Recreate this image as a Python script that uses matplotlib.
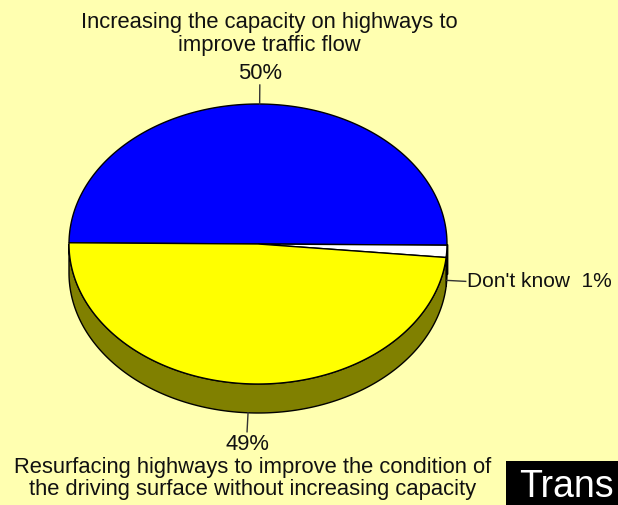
"""Opinion pie chart (3-D style) recreated with matplotlib."""
import numpy as np
import matplotlib.pyplot as plt
from matplotlib.patches import Polygon, Rectangle

CATEGORIES = [
    "Increasing the capacity on highways to\nimprove traffic flow",
    "Don't know",
    "Resurfacing highways to improve the condition of\nthe driving surface without increasing capacity",
]
VALUES = [50.0, 1.4, 48.6]
TOP_COLORS = ["#0000ff", "#ffffff", "#ffff00"]
SIDE_COLORS = ["#000080", "#808080", "#808000"]

BG = "#ffffb0"
CX, CY, RX, RY, DEPTH = 258, 244, 189, 140, 29
START = 179.5
plt.rcParams["font.family"] = ["Liberation Sans", "DejaVu Sans"]


def ellipse_pts(t1, t2, dy=0, n=200):
    t = np.radians(np.linspace(t1, t2, n))
    return np.column_stack([CX + RX * np.cos(t), CY - RY * np.sin(t) + dy])


fig = plt.figure(figsize=(6.18, 5.05), dpi=100)
fig.patch.set_facecolor(BG)
ax = fig.add_axes([0, 0, 1, 1])
ax.set_xlim(0, 618)
ax.set_ylim(505, 0)
ax.axis("off")

fracs = np.array(VALUES) / sum(VALUES)
ends = START - 360 * np.cumsum(fracs)
starts = np.concatenate([[START], ends[:-1]])

# side walls: only the front half (angles between -180 and 0) shows
for s, e, col in zip(starts, ends, SIDE_COLORS):
    hi, lo = min(s, 0), max(e, -180)
    if hi <= lo:
        continue
    top = ellipse_pts(hi, lo)
    bot = ellipse_pts(lo, hi, dy=DEPTH)
    ax.add_patch(Polygon(np.vstack([top, bot]), closed=True, facecolor=col,
                         edgecolor="black", linewidth=1, zorder=1))

# top faces
for s, e, col in zip(starts, ends, TOP_COLORS):
    pts = np.vstack([[CX, CY], ellipse_pts(s, e)])
    ax.add_patch(Polygon(pts, closed=True, facecolor=col, edgecolor="black",
                         linewidth=1, zorder=2))

# leader lines and labels
mids = (starts + ends) / 2
txt = dict(fontsize=15.8, color="#111111", linespacing=1.08)
for m, cat, v in zip(mids, CATEGORIES, VALUES):
    t = np.radians(m)
    x0, y0 = CX + RX * np.cos(t), CY - RY * np.sin(t)
    if np.sin(t) < 0:
        y0 += DEPTH
    d = np.array([np.cos(t), -np.sin(t)])
    x1, y1 = x0 + 19 * d[0], y0 + 19 * d[1]
    ax.plot([x0, x1], [y0, y1], color="#333333", linewidth=1, zorder=3)
    pct = f"{round(v):.0f}%"
    if abs(np.cos(t)) > 0.7:
        ax.text(x1 + 1, y1, f"{cat}  {pct}", ha="left", va="center",
                **{**txt, "fontsize": 15})
    elif np.sin(t) > 0:
        ax.text(x1, y1 - 12, pct, ha="center", va="center", **txt)
        ax.text(x1 + 9, y1 - 51, cat, ha="center", va="center", **txt)
    else:
        ax.text(x1, y1 + 13, pct, ha="center", va="center", **txt)
        ax.text(x1 + 6, y1 + 47, cat, ha="center", va="center", **txt)

ax.add_patch(Rectangle((506, 461), 120, 50, facecolor="black", zorder=4))
ax.text(519, 497, "Trans", ha="left", va="baseline", fontsize=27,
        color="white", zorder=5)

fig.savefig("out.png", dpi=100, facecolor=BG)
